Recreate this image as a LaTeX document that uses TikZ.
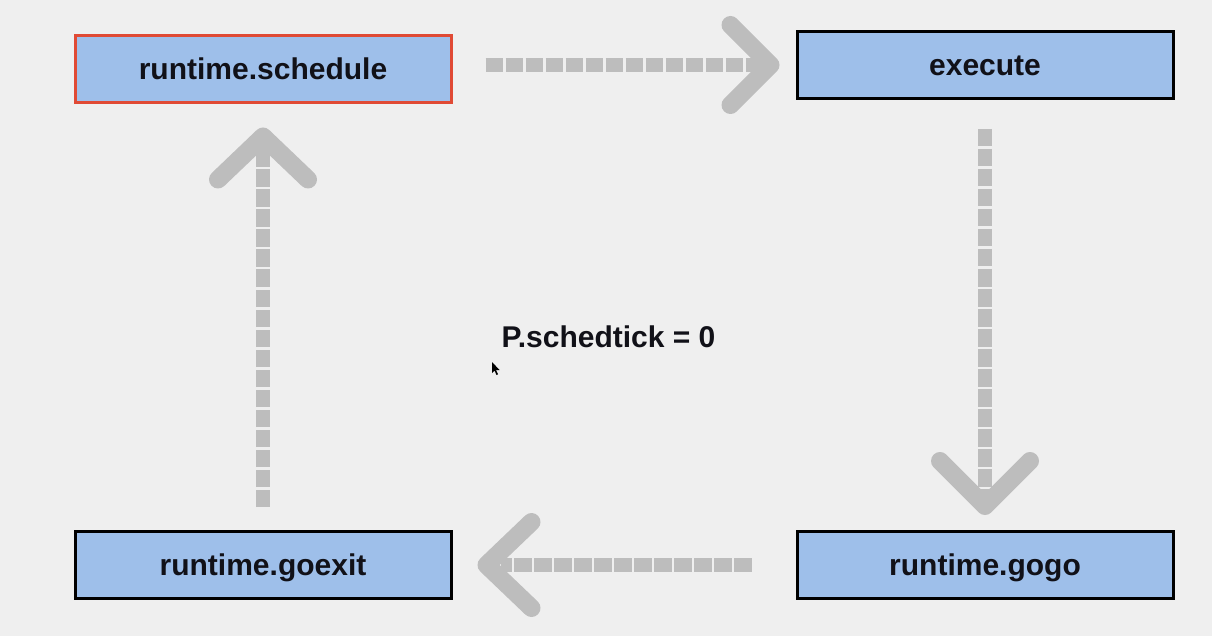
\documentclass[tikz,border=0pt]{standalone}
\usepackage{fontspec}
\setmainfont{Liberation Sans}
\definecolor{bgc}{HTML}{EFEFEF}
\definecolor{boxfill}{HTML}{9EBFEA}
\definecolor{redb}{HTML}{E04A35}
\definecolor{arrowg}{HTML}{BDBDBD}
\definecolor{txt}{HTML}{111118}
\tikzset{
  box/.style={draw=black, line width=3pt, fill=boxfill, rectangle, minimum width=376pt, minimum height=67pt, inner sep=0pt, text=txt, text height=21pt, text depth=0pt, font=\fontsize{30}{36}\selectfont\bfseries},
  dashln/.style={draw=arrowg, line width=14pt, dash pattern=on 17.5pt off 2.5pt, line cap=butt},
  chev/.style={draw=arrowg, line width=18pt, line cap=round, line join=round}
}
\begin{document}
\begin{tikzpicture}[x=1pt,y=-1pt]
\fill[bgc] (0,0) rectangle (1212,636);
\useasboundingbox (0,0) rectangle (1212,636);
\node[box, draw=redb] (schedule) at (263,69.5) {runtime.schedule};
\node[box] (execute) at (985,65) {execute};
\node[box] (goexit) at (263,565) {runtime.goexit};
\node[box] (gogo) at (985,565) {runtime.gogo};
\node[font=\fontsize{30}{36}\selectfont\bfseries, text=txt, inner sep=0pt, text height=21pt, text depth=0pt] (tick) at (608.5,337) {P.schedtick = 0};
% top arrow
\draw[dashln, shorten <=33pt, shorten >=35pt] (schedule.east |- execute.west) -- (execute.west);
\coordinate (tipA) at ([xshift=-25pt]execute.west);
\draw[chev] ([shift={(-40,-40)}]tipA) -- (tipA) -- ([shift={(-40,40)}]tipA);
% right arrow
\draw[dashln, shorten <=29pt, shorten >=30pt] (execute.south) -- (gogo.north);
\coordinate (tipB) at ([yshift=24pt]gogo.north);
\draw[chev] ([shift={(-45,-45)}]tipB) -- (tipB) -- ([shift={(45,-45)}]tipB);
% bottom arrow
\draw[dashln, shorten <=44pt, shorten >=48pt] (gogo.west) -- (goexit.east);
\coordinate (tipC) at ([xshift=34pt]goexit.east);
\draw[chev] ([shift={(45,-43)}]tipC) -- (tipC) -- ([shift={(45,43)}]tipC);
% left arrow
\draw[dashln, shorten <=23pt, shorten >=40pt] (goexit.north) -- (schedule.south);
\coordinate (tipD) at ([yshift=-32pt]schedule.south);
\draw[chev] ([shift={(-45,43)}]tipD) -- (tipD) -- ([shift={(45,43)}]tipD);
% cursor
\fill[black] (492,362) -- (492,373) -- (494.5,370.5) -- (496.5,375) -- (498,374.3) -- (496,370) -- (499.5,370) -- cycle;
\end{tikzpicture}
\end{document}
